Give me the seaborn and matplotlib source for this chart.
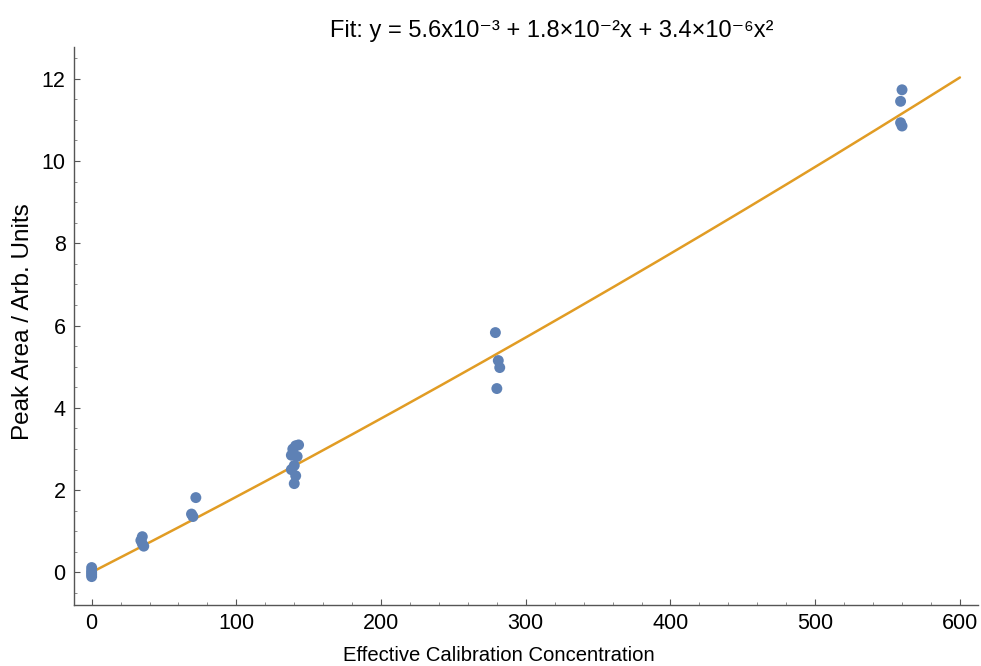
import matplotlib
matplotlib.use("Agg")
import matplotlib.pyplot as plt
import numpy as np
import pandas as pd
import seaborn as sns
from matplotlib.ticker import MultipleLocator

# Calibration points
conc = [0, 0, 0, 0, 0,
        35, 34, 35, 36,
        72, 69, 70,
        141, 143, 139, 138, 142, 140, 138, 141, 140,
        279, 281, 282, 280,
        560, 559, 559, 560]
area = [0.12, 0.05, 0.0, -0.05, -0.1,
        0.87, 0.78, 0.70, 0.64,
        1.82, 1.42, 1.36,
        3.08, 3.10, 3.00, 2.85, 2.82, 2.60, 2.50, 2.35, 2.16,
        5.83, 5.15, 4.98, 4.47,
        11.73, 11.45, 10.93, 10.85]

# Fit coefficients from the title (c0 + c1 x + c2 x^2)
fit_coef = [5.6e-3, 1.8e-2, 3.4e-6]
fit_range = [0, 600]

x_ticks = [0, 100, 200, 300, 400, 500, 600]
y_ticks = [0, 2, 4, 6, 8, 10, 12]

sns.set_theme(style="ticks")
plt.rcParams['font.family'] = ['Liberation Sans', 'DejaVu Sans']
plt.rcParams['text.color'] = 'black'
plt.rcParams['axes.labelcolor'] = 'black'
plt.rcParams['xtick.labelcolor'] = 'black'
plt.rcParams['ytick.labelcolor'] = 'black'

df = pd.DataFrame({'conc': conc, 'area': area})
xf = np.linspace(fit_range[0], fit_range[1], 200)
fit_df = pd.DataFrame({'conc': xf, 'area': np.polyval(fit_coef[::-1], xf)})

fig = plt.figure(figsize=(9.81, 6.66), dpi=100)
ax = fig.add_axes([74 / 981, 61 / 666, 904 / 981, 558 / 666])

sns.lineplot(data=fit_df, x='conc', y='area', ax=ax, color='#e19c24', linewidth=1.8)
sns.scatterplot(data=df, x='conc', y='area', ax=ax, color='#5e81b5', s=62,
                edgecolor='none', zorder=3)

ax.set_xlim(-12.2, 612.5)
ax.set_ylim(-0.79, 12.77)
ax.set_xticks(x_ticks)
ax.set_yticks(y_ticks)
ax.xaxis.set_minor_locator(MultipleLocator(20))
ax.yaxis.set_minor_locator(MultipleLocator(0.5))

sns.despine(ax=ax)
for s in ['left', 'bottom']:
    ax.spines[s].set_color('#555555')
    ax.spines[s].set_linewidth(1.0)
ax.tick_params(which='major', direction='in', length=4, width=0.8, color='#555555',
               labelsize=15.5, pad=6)
ax.tick_params(which='minor', direction='in', length=2.5, width=0.6, color='#777777')

ax.set_xlabel('Effective Calibration Concentration', fontsize=14.6)
ax.set_ylabel('Peak Area / Arb. Units', fontsize=17.5)
ax.xaxis.set_label_coords(0.47, -0.073)
ax.yaxis.set_label_coords(-0.044, 0.507)

fig.text(552 / 981, 1 - 31 / 666,
         'Fit: y = 5.6x10\u207b\u00b3 + 1.8\u00d710\u207b\u00b2x + 3.4\u00d710\u207b\u2076x\u00b2',
         ha='center', va='center', fontsize=17)

fig.savefig('out.png', dpi=100)
